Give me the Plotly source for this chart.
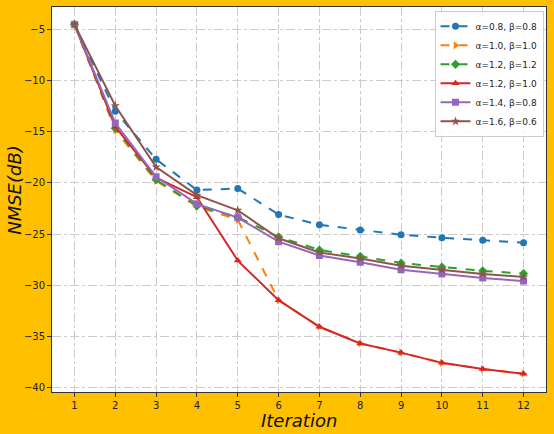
import plotly.graph_objects as go

iterations = [1, 2, 3, 4, 5, 6, 7, 8, 9, 10, 11, 12]

labels = ["α=0.8, β=0.8", "α=1.0, β=1.0", "α=1.2, β=1.2",
          "α=1.2, β=1.0", "α=1.4, β=0.8", "α=1.6, β=0.6"]

nmse_a08_b08 = [-4.5, -13.0, -17.7, -20.7, -20.55, -23.1, -24.1, -24.6, -25.07, -25.36, -25.6, -25.85]
nmse_a10_b10 = [-4.5, -14.85, -19.8, -22.3, -23.6, -31.47, -34.07, -35.7, -36.6, -37.6, -38.2, -38.66]
nmse_a12_b12 = [-4.5, -14.65, -19.7, -22.25, -23.35, -25.28, -26.56, -27.18, -27.83, -28.22, -28.6, -28.87]
nmse_a12_b10 = [-4.5, -14.5, -19.5, -21.4, -27.6, -31.47, -34.07, -35.7, -36.6, -37.6, -38.2, -38.66]
nmse_a14_b08 = [-4.5, -14.15, -19.4, -22.05, -23.4, -25.75, -27.1, -27.76, -28.5, -28.9, -29.3, -29.6]
nmse_a16_b06 = [-4.5, -12.45, -18.45, -21.2, -22.68, -25.42, -26.8, -27.4, -28.1, -28.5, -28.9, -29.2]

series = [nmse_a08_b08, nmse_a10_b10, nmse_a12_b12, nmse_a12_b10, nmse_a14_b08, nmse_a16_b06]
colors = ["#1f77b4", "#ff7f0e", "#2ca02c", "#d62728", "#9467bd", "#8c564b"]
symbols = ["circle", "triangle-right", "diamond", "triangle-up", "square", "star"]
dashes = ["dash", "dash", "dash", "solid", "solid", "solid"]
msizes = [7, 7, 7, 7, 7, 7]

fig = go.Figure()
for lab, ys, c, s, d, ms in zip(labels, series, colors, symbols, dashes, msizes):
    fig.add_trace(go.Scatter(
        x=iterations, y=ys, name=lab, mode="lines+markers",
        line=dict(color=c, width=2, dash=d),
        marker=dict(symbol=s, size=ms, color=c),
    ))

axis_common = dict(
    showline=True, mirror=True, linecolor="#333333", linewidth=1,
    showgrid=True, gridcolor="#cccccc", griddash="dashdot", gridwidth=1,
    ticks="outside", ticklen=4, tickcolor="#333333",
    tickfont=dict(family="DejaVu Sans", size=10, color="#222222"),
    zeroline=False, automargin=False,
)

fig.update_xaxes(range=[0.45, 12.55], tickmode="array", tickvals=iterations, **axis_common)
fig.update_yaxes(range=[-40.45, -2.8], tickmode="array",
                 tickvals=[-5, -10, -15, -20, -25, -30, -35, -40], **axis_common)

title_font = dict(family="DejaVu Sans", size=18, color="#111111")
fig.add_annotation(text="<i>Iteration</i>", xref="paper", yref="paper",
                   x=0.5, y=-0.042, xanchor="center", yanchor="top",
                   showarrow=False, font=title_font)
fig.add_annotation(text="<i>NMSE(dB)</i>", xref="paper", yref="paper",
                   x=-0.075, y=0.525, xanchor="center", yanchor="middle",
                   textangle=-90, showarrow=False, font=title_font)

fig.update_layout(
    width=554, height=434,
    margin=dict(l=52, r=8, t=7, b=42),
    paper_bgcolor="#FFC000", plot_bgcolor="white",
    font=dict(family="DejaVu Sans"),
    legend=dict(
        x=0.995, y=0.99, xanchor="right", yanchor="top",
        bgcolor="rgba(255,255,255,0.85)", bordercolor="#cccccc", borderwidth=1,
        font=dict(family="DejaVu Sans", size=9, color="#222222"),
        tracegroupgap=0, itemwidth=30,
    ),
)

fig.write_html("out.html", config={"displayModeBar": False},
               post_script="document.body.style.margin='0px';")
